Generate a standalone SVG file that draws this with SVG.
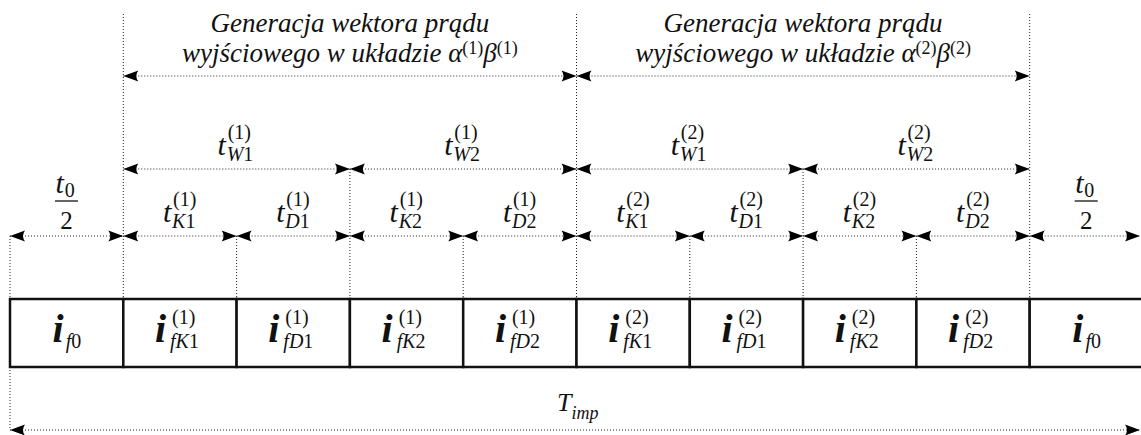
<svg xmlns="http://www.w3.org/2000/svg" width="1141" height="435" viewBox="0 0 1141 435">
<style>
text{font-family:"Liberation Serif","Times New Roman",serif;fill:#111}
.dot{stroke:#222;stroke-width:1;stroke-dasharray:1 2;fill:none}
.arr{stroke:#222;stroke-width:1;stroke-dasharray:1 2;fill:none;marker-start:url(#ah);marker-end:url(#ah)}
.cell{fill:#fff;stroke:#111;stroke-width:2.5}
.hdr{font-size:27px;font-style:italic;text-anchor:middle}
.hs{font-size:18px;font-style:normal}
.tb{font-size:30px;font-style:italic}
.s{font-size:20px;font-style:normal;font-weight:normal}
.it{font-style:italic}
.ib{font-size:40px;font-style:italic;font-weight:bold}
.num{font-size:25px;text-anchor:middle}
.bar{stroke:#111;stroke-width:1.3}
</style>
<defs>
<marker id="ah" markerUnits="userSpaceOnUse" viewBox="-16 -6 17 12" refX="0" refY="0" markerWidth="17" markerHeight="12" orient="auto-start-reverse" overflow="visible">
<path d="M0,0 L-15,-5.5 Q-11,0 -15,5.5 Z" fill="#000" stroke="none"/>
</marker>
</defs>

<g id="connectors">
<line class="dot" x1="123.3" y1="14" x2="123.3" y2="299"/>
<line class="dot" x1="576.5" y1="14" x2="576.5" y2="299"/>
<line class="dot" x1="1029.7" y1="14" x2="1029.7" y2="299"/>
<line class="dot" x1="349.9" y1="169" x2="349.9" y2="299"/>
<line class="dot" x1="803.1" y1="169" x2="803.1" y2="299"/>
<line class="dot" x1="236.6" y1="236" x2="236.6" y2="299"/>
<line class="dot" x1="463.2" y1="236" x2="463.2" y2="299"/>
<line class="dot" x1="689.8" y1="236" x2="689.8" y2="299"/>
<line class="dot" x1="916.4" y1="236" x2="916.4" y2="299"/>
<line class="dot" x1="10" y1="236" x2="10" y2="299"/>
<line class="dot" x1="10" y1="367" x2="10" y2="430"/>
<line class="arr" x1="123.3" y1="76" x2="576.5" y2="76"/>
<line class="arr" x1="576.5" y1="76" x2="1029.7" y2="76"/>
<line class="arr" x1="123.3" y1="169" x2="349.9" y2="169"/>
<line class="arr" x1="349.9" y1="169" x2="576.5" y2="169"/>
<line class="arr" x1="576.5" y1="169" x2="803.1" y2="169"/>
<line class="arr" x1="803.1" y1="169" x2="1029.7" y2="169"/>
<line class="arr" x1="10" y1="236" x2="123.3" y2="236"/>
<line class="arr" x1="123.3" y1="236" x2="236.6" y2="236"/>
<line class="arr" x1="236.6" y1="236" x2="349.9" y2="236"/>
<line class="arr" x1="349.9" y1="236" x2="463.2" y2="236"/>
<line class="arr" x1="463.2" y1="236" x2="576.5" y2="236"/>
<line class="arr" x1="576.5" y1="236" x2="689.8" y2="236"/>
<line class="arr" x1="689.8" y1="236" x2="803.1" y2="236"/>
<line class="arr" x1="803.1" y1="236" x2="916.4" y2="236"/>
<line class="arr" x1="916.4" y1="236" x2="1029.7" y2="236"/>
<line class="arr" x1="1029.7" y1="236" x2="1140" y2="236"/>
<line class="arr" x1="10" y1="430" x2="1140" y2="430"/>
</g>

<g id="headers">
<text class="hdr" x="349.9" y="31.5">Generacja wektora prądu</text>
<text class="hdr" x="349.9" y="62">wyjściowego w układzie α<tspan class="hs" dy="-8">(1)</tspan><tspan dy="8">β</tspan><tspan class="hs" dy="-8">(1)</tspan></text>
<text class="hdr" x="803.1" y="31.5">Generacja wektora prądu</text>
<text class="hdr" x="803.1" y="62">wyjściowego w układzie α<tspan class="hs" dy="-8">(2)</tspan><tspan dy="8">β</tspan><tspan class="hs" dy="-8">(2)</tspan></text>
</g>

<g id="labels-w">
<g id="tW1-1"><text class="tb" x="217.6" y="155">t<tspan class="s" dx="1.7" dy="-16.5">(1)</tspan><tspan class="s" dx="-24.3" dy="22.5"><tspan class="it">W</tspan>1</tspan></text></g>
<g id="tW2-1"><text class="tb" x="444.2" y="155">t<tspan class="s" dx="1.7" dy="-16.5">(1)</tspan><tspan class="s" dx="-24.3" dy="22.5"><tspan class="it">W</tspan>2</tspan></text></g>
<g id="tW1-2"><text class="tb" x="670.8" y="155">t<tspan class="s" dx="1.7" dy="-16.5">(2)</tspan><tspan class="s" dx="-24.3" dy="22.5"><tspan class="it">W</tspan>1</tspan></text></g>
<g id="tW2-2"><text class="tb" x="897.4" y="155">t<tspan class="s" dx="1.7" dy="-16.5">(2)</tspan><tspan class="s" dx="-24.3" dy="22.5"><tspan class="it">W</tspan>2</tspan></text></g>
</g>

<g id="labels-kd">
<g id="t0-left"><text class="tb" x="55.6" y="193">t<tspan class="s" dx="0.7" dy="4">0</tspan></text><line class="bar" x1="55" y1="201" x2="78" y2="201"/><text class="num" x="66.6" y="229">2</text></g>
<g id="tK1-1"><text class="tb" x="163" y="222">t<tspan class="s" dx="1.7" dy="-16.5">(1)</tspan><tspan class="s" dx="-24.3" dy="22.5"><tspan class="it">K</tspan>1</tspan></text></g>
<g id="tD1-1"><text class="tb" x="276.3" y="222">t<tspan class="s" dx="1.7" dy="-16.5">(1)</tspan><tspan class="s" dx="-24.3" dy="22.5"><tspan class="it">D</tspan>1</tspan></text></g>
<g id="tK2-1"><text class="tb" x="389.6" y="222">t<tspan class="s" dx="1.7" dy="-16.5">(1)</tspan><tspan class="s" dx="-24.3" dy="22.5"><tspan class="it">K</tspan>2</tspan></text></g>
<g id="tD2-1"><text class="tb" x="502.9" y="222">t<tspan class="s" dx="1.7" dy="-16.5">(1)</tspan><tspan class="s" dx="-24.3" dy="22.5"><tspan class="it">D</tspan>2</tspan></text></g>
<g id="tK1-2"><text class="tb" x="616.2" y="222">t<tspan class="s" dx="1.7" dy="-16.5">(2)</tspan><tspan class="s" dx="-24.3" dy="22.5"><tspan class="it">K</tspan>1</tspan></text></g>
<g id="tD1-2"><text class="tb" x="729.5" y="222">t<tspan class="s" dx="1.7" dy="-16.5">(2)</tspan><tspan class="s" dx="-24.3" dy="22.5"><tspan class="it">D</tspan>1</tspan></text></g>
<g id="tK2-2"><text class="tb" x="842.8" y="222">t<tspan class="s" dx="1.7" dy="-16.5">(2)</tspan><tspan class="s" dx="-24.3" dy="22.5"><tspan class="it">K</tspan>2</tspan></text></g>
<g id="tD2-2"><text class="tb" x="956.1" y="222">t<tspan class="s" dx="1.7" dy="-16.5">(2)</tspan><tspan class="s" dx="-24.3" dy="22.5"><tspan class="it">D</tspan>2</tspan></text></g>
<g id="t0-right"><text class="tb" x="1075.3" y="193">t<tspan class="s" dx="0.7" dy="4">0</tspan></text><line class="bar" x1="1074.7" y1="201" x2="1097.7" y2="201"/><text class="num" x="1086.3" y="229">2</text></g>
</g>

<g id="cells">
<g id="c0"><rect class="cell" x="10" y="299" width="113.3" height="68"/><text class="ib" x="52.6" y="342">i<tspan class="s" dx="2" dy="6"><tspan class="it">f</tspan>0</tspan></text></g>
<g id="c1"><rect class="cell" x="123.3" y="299" width="113.3" height="68"/><text class="ib" x="155" y="342">i<tspan class="s" dx="5.9" dy="-18">(1)</tspan><tspan class="s" dx="-25.3" dy="24"><tspan class="it">fK</tspan>1</tspan></text></g>
<g id="c2"><rect class="cell" x="236.6" y="299" width="113.3" height="68"/><text class="ib" x="268.3" y="342">i<tspan class="s" dx="5.9" dy="-18">(1)</tspan><tspan class="s" dx="-25.3" dy="24"><tspan class="it">fD</tspan>1</tspan></text></g>
<g id="c3"><rect class="cell" x="349.9" y="299" width="113.3" height="68"/><text class="ib" x="381.6" y="342">i<tspan class="s" dx="5.9" dy="-18">(1)</tspan><tspan class="s" dx="-25.3" dy="24"><tspan class="it">fK</tspan>2</tspan></text></g>
<g id="c4"><rect class="cell" x="463.2" y="299" width="113.3" height="68"/><text class="ib" x="494.9" y="342">i<tspan class="s" dx="5.9" dy="-18">(1)</tspan><tspan class="s" dx="-25.3" dy="24"><tspan class="it">fD</tspan>2</tspan></text></g>
<g id="c5"><rect class="cell" x="576.5" y="299" width="113.3" height="68"/><text class="ib" x="608.2" y="342">i<tspan class="s" dx="5.9" dy="-18">(2)</tspan><tspan class="s" dx="-25.3" dy="24"><tspan class="it">fK</tspan>1</tspan></text></g>
<g id="c6"><rect class="cell" x="689.8" y="299" width="113.3" height="68"/><text class="ib" x="721.5" y="342">i<tspan class="s" dx="5.9" dy="-18">(2)</tspan><tspan class="s" dx="-25.3" dy="24"><tspan class="it">fD</tspan>1</tspan></text></g>
<g id="c7"><rect class="cell" x="803.1" y="299" width="113.3" height="68"/><text class="ib" x="834.8" y="342">i<tspan class="s" dx="5.9" dy="-18">(2)</tspan><tspan class="s" dx="-25.3" dy="24"><tspan class="it">fK</tspan>2</tspan></text></g>
<g id="c8"><rect class="cell" x="916.4" y="299" width="113.3" height="68"/><text class="ib" x="948.1" y="342">i<tspan class="s" dx="5.9" dy="-18">(2)</tspan><tspan class="s" dx="-25.3" dy="24"><tspan class="it">fD</tspan>2</tspan></text></g>
<g id="c9"><rect class="cell" x="1029.7" y="299" width="113.3" height="68"/><text class="ib" x="1072.3" y="342">i<tspan class="s" dx="2" dy="6"><tspan class="it">f</tspan>0</tspan></text></g>
</g>

<g id="total-label"><text class="tb" x="557" y="411" style="font-size:26px">T<tspan class="s it" dy="8" style="font-size:18px">imp</tspan></text></g>
</svg>
